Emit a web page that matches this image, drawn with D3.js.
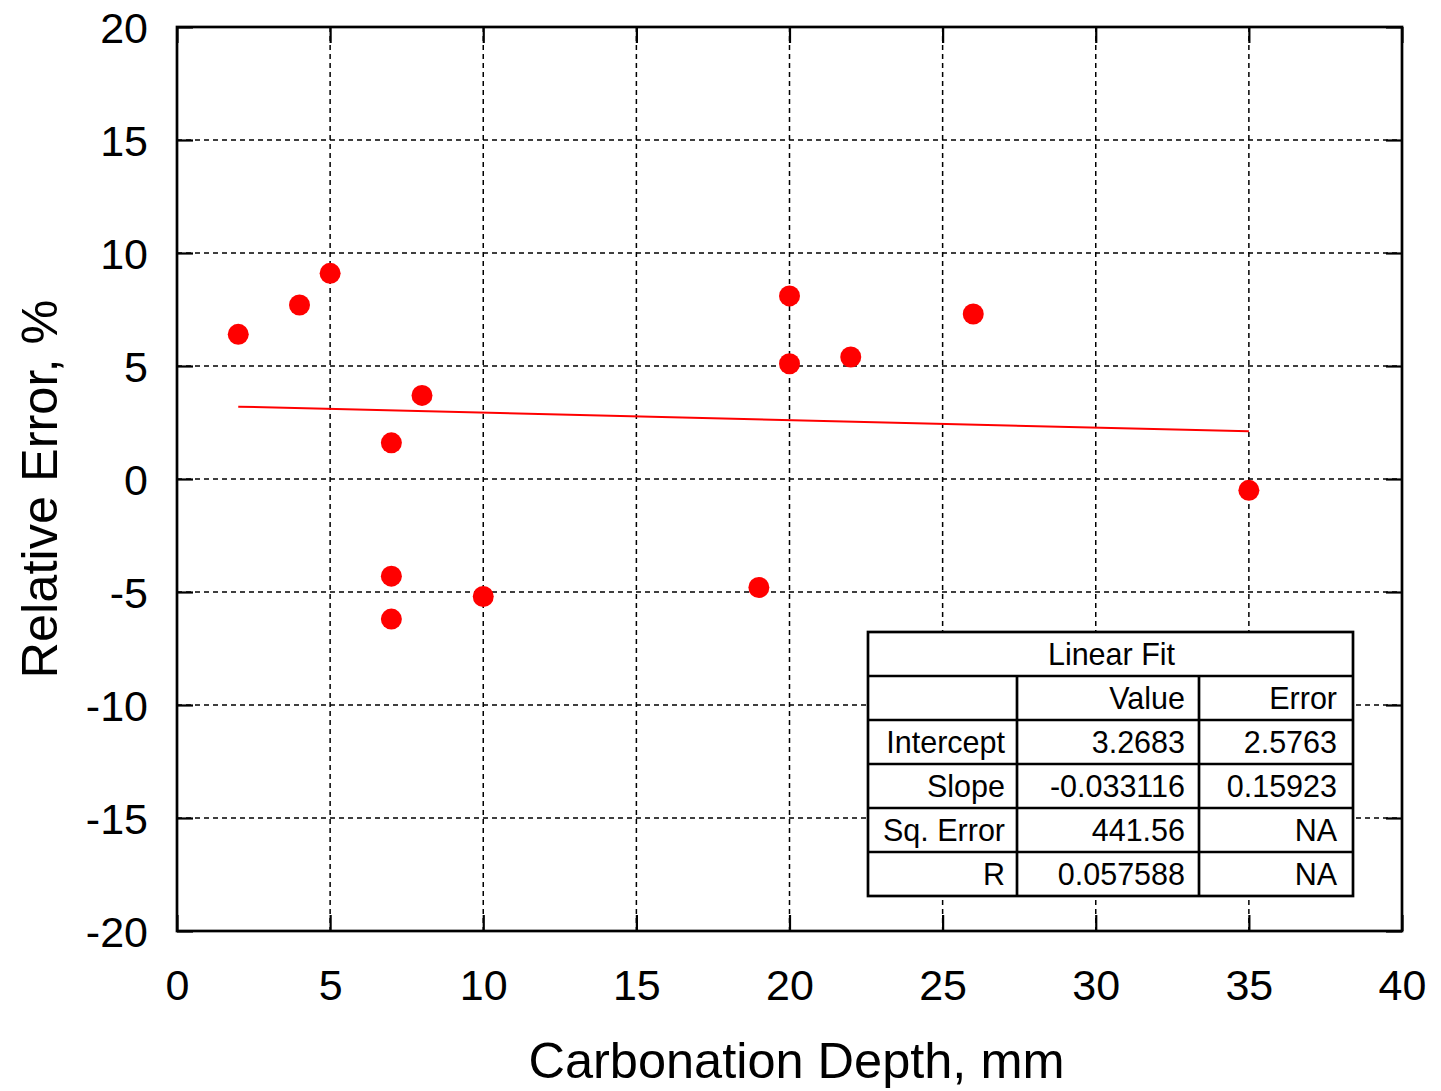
<!DOCTYPE html>
<html>
<head>
<meta charset="utf-8">
<script src="https://cdn.jsdelivr.net/npm/d3@7"></script>
<style>
  body { margin: 0; background: #fff; }
  svg text { font-family: "Liberation Sans", Arial, sans-serif; fill: #000; }
</style>
</head>
<body>
<div id="chart"></div>
<script>
// measured points
const depth = [2, 4, 5, 8, 7, 7, 7, 10, 19, 20, 20, 22, 26, 35];
const relError = [6.4, 7.7, 9.1, 3.7, 1.6, -4.3, -6.2, -5.2, -4.8, 8.1, 5.1, 5.4, 7.3, -0.5];

// linear fit
const fitIntercept = 3.2683;
const fitSlope = -0.033116;
const fitRange = [2, 35];

const xTicks = [0, 5, 10, 15, 20, 25, 30, 35, 40];
const yTicks = [-20, -15, -10, -5, 0, 5, 10, 15, 20];

// fit table
const tableTitle = "Linear Fit";
const tableHeader = ["", "Value", "Error"];
const tableRows = [
  ["Intercept", "3.2683", "2.5763"],
  ["Slope", "-0.033116", "0.15923"],
  ["Sq. Error", "441.56", "NA"],
  ["R", "0.057588", "NA"]
];

const W = 1441, H = 1091;
const margin = { top: 27, right: 39, bottom: 160, left: 177 },
      width = W - margin.left - margin.right,
      height = H - margin.top - margin.bottom;

const svg = d3.select("#chart").append("svg")
    .attr("width", W)
    .attr("height", H);

const g = svg.append("g")
    .attr("transform", "translate(" + margin.left + "," + margin.top + ")");

const x = d3.scaleLinear().domain([0, 40]).range([0, width]);
const y = d3.scaleLinear().domain([-20, 20]).range([height, 0]);

// grid
g.append("g").selectAll("line")
  .data(xTicks.slice(1, -1))
  .enter().append("line")
    .attr("x1", d => x(d)).attr("x2", d => x(d))
    .attr("y1", 0).attr("y2", height)
    .attr("stroke", "#000").attr("stroke-width", 1.5)
    .attr("stroke-dasharray", "5,4");

g.append("g").selectAll("line")
  .data(yTicks.slice(1, -1))
  .enter().append("line")
    .attr("y1", d => y(d)).attr("y2", d => y(d))
    .attr("x1", 0).attr("x2", width)
    .attr("stroke", "#000").attr("stroke-width", 1.5)
    .attr("stroke-dasharray", "5,4");

// axes (inward ticks on all sides), plain hyphen for negatives
const tickLen = 16;
const fmt = d => String(d);
const axisBottom = g.append("g")
    .attr("transform", "translate(0," + height + ")")
    .call(d3.axisBottom(x).tickValues(xTicks).tickFormat(fmt).tickSizeInner(-tickLen).tickSizeOuter(0).tickPadding(38));
const axisTop = g.append("g")
    .call(d3.axisTop(x).tickValues(xTicks).tickSizeInner(-tickLen).tickSizeOuter(0).tickFormat(""));
const axisLeft = g.append("g")
    .call(d3.axisLeft(y).tickValues(yTicks).tickFormat(fmt).tickSizeInner(-tickLen).tickSizeOuter(0).tickPadding(29));
const axisRight = g.append("g")
    .attr("transform", "translate(" + width + ",0)")
    .call(d3.axisRight(y).tickValues(yTicks).tickSizeInner(-tickLen).tickSizeOuter(0).tickFormat(""));

[axisBottom, axisTop, axisLeft, axisRight].forEach(a => {
  a.select(".domain").remove();
  a.selectAll(".tick line").attr("stroke", "#000").attr("stroke-width", 2.2);
  a.selectAll("text").style("font-size", "43px").attr("fill", "#000");
});

axisLeft.selectAll("text").attr("dy", "0.36em");

// frame
g.append("rect")
  .attr("x", 0).attr("y", 0)
  .attr("width", width).attr("height", height)
  .attr("fill", "none")
  .attr("stroke", "#000")
  .attr("stroke-width", 2.7);

// fit line
g.append("line")
  .attr("x1", x(fitRange[0])).attr("y1", y(fitIntercept + fitSlope * fitRange[0]))
  .attr("x2", x(fitRange[1])).attr("y2", y(fitIntercept + fitSlope * fitRange[1]))
  .attr("stroke", "#ff0000")
  .attr("stroke-width", 2);

// points
g.append("g").selectAll("circle")
  .data(depth.map((d, i) => ({ x: d, y: relError[i] })))
  .enter().append("circle")
    .attr("cx", d => x(d.x))
    .attr("cy", d => y(d.y))
    .attr("r", 10.5)
    .attr("fill", "#ff0000");

// axis labels
svg.append("text")
  .attr("x", margin.left + width / 2 + 7)
  .attr("y", 1078)
  .attr("text-anchor", "middle")
  .style("font-size", "50.5px")
  .text("Carbonation Depth, mm");

svg.append("text")
  .attr("transform", "translate(57," + (margin.top + height / 2 + 10) + ") rotate(-90)")
  .attr("text-anchor", "middle")
  .style("font-size", "50.5px")
  .text("Relative Error, %");

// fit table
const tbl = svg.append("g").attr("transform", "translate(868,632)");
const colX = [0, 149, 331, 485];
const rowH = 44;
const nRows = tableRows.length + 2;

tbl.append("rect")
  .attr("width", colX[3]).attr("height", rowH * nRows)
  .attr("fill", "#fff");

for (let i = 1; i < nRows; i++) {
  tbl.append("line")
    .attr("x1", 0).attr("x2", colX[3])
    .attr("y1", i * rowH).attr("y2", i * rowH)
    .attr("stroke", "#000").attr("stroke-width", 2.7);
}
[1, 2].forEach(c => {
  tbl.append("line")
    .attr("x1", colX[c]).attr("x2", colX[c])
    .attr("y1", rowH).attr("y2", rowH * nRows)
    .attr("stroke", "#000").attr("stroke-width", 2.7);
});
tbl.append("rect")
  .attr("width", colX[3]).attr("height", rowH * nRows)
  .attr("fill", "none")
  .attr("stroke", "#000").attr("stroke-width", 2.7);

tbl.append("text")
  .attr("x", colX[3] / 2 + 1)
  .attr("y", rowH / 2 + 11)
  .attr("text-anchor", "middle")
  .style("font-size", "30.5px")
  .text(tableTitle);

const pad = [12, 14, 16];
[tableHeader].concat(tableRows).forEach((row, r) => {
  row.forEach((cell, c) => {
    tbl.append("text")
      .attr("x", colX[c + 1] - pad[c])
      .attr("y", (r + 1) * rowH + rowH / 2 + 11)
      .attr("text-anchor", "end")
      .style("font-size", "30.5px")
      .text(cell);
  });
});
</script>
</body>
</html>
